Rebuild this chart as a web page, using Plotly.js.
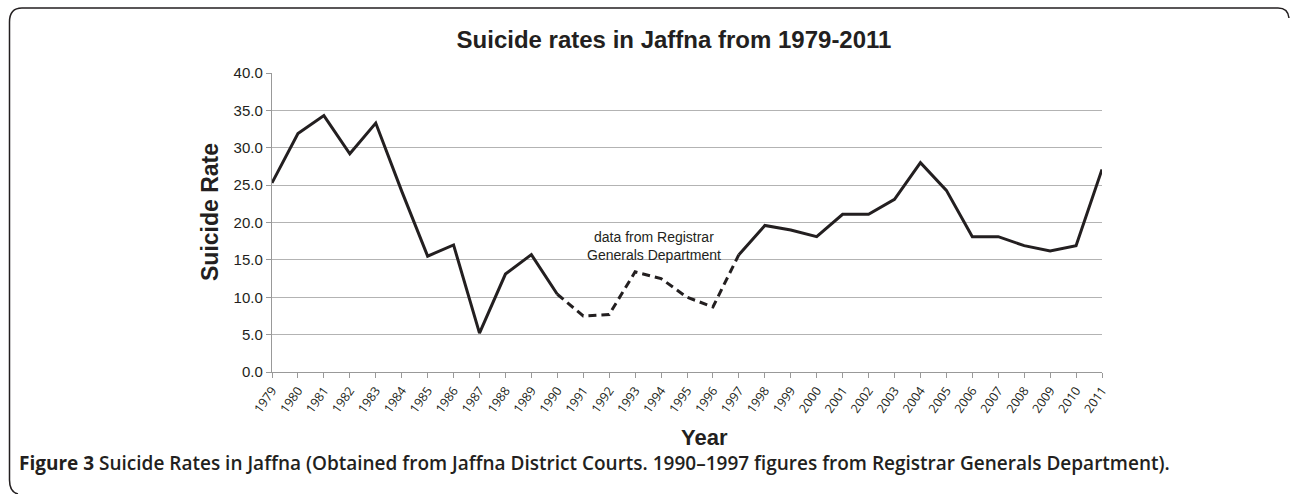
<!DOCTYPE html>
<html>
<head>
<meta charset="utf-8">
<script src="https://cdn.plot.ly/plotly-3.0.1.min.js"></script>
<style>html,body{margin:0;padding:0;background:#fff;}#chart{width:1292px;height:494px;}</style>
</head>
<body>
<div id="chart"></div>
<script>
// Data
const years = [1979,1980,1981,1982,1983,1984,1985,1986,1987,1988,1989,1990,1991,1992,1993,1994,1995,1996,1997,1998,1999,2000,2001,2002,2003,2004,2005,2006,2007,2008,2009,2010,2011];
const rates = [25.3,31.9,34.3,29.2,33.3,24.2,15.5,17.0,5.2,13.1,15.7,10.4,7.5,7.7,13.4,12.5,10.0,8.7,15.7,19.6,19.0,18.1,21.1,21.1,23.1,28.0,24.3,18.1,18.1,16.9,16.2,16.9,27.1];
const registrarStart = 1990;   // 1990–1997 figures from Registrar Generals Department
const registrarEnd = 1997;
const yTicks = [0,5,10,15,20,25,30,35,40];
const yTickText = ["0.0","5.0","10.0","15.0","20.0","25.0","30.0","35.0","40.0"];
const xTickText = years.map(String);

const W = 1292, H = 494;
const M = {l: 272, r: 190, t: 73, b: 122};
const plotW = W - M.l - M.r, plotH = H - M.t - M.b;
function px(x){ return (x - M.l) / plotW; }
function py(y){ return (H - M.b - y) / plotH; }

function seg(from, to){
  const xs = [], ys = [];
  years.forEach((yr,i)=>{ if (yr>=from && yr<=to){ xs.push(yr); ys.push(rates[i]); } });
  return {xs, ys};
}
const s1 = seg(years[0], registrarStart);
const s2 = seg(registrarStart, registrarEnd);
const s3 = seg(registrarEnd, years[years.length-1]);
const lineColor = '#231f20';

const traces = [
  {x: s1.xs, y: s1.ys, mode: 'lines', line: {color: lineColor, width: 3}, hoverinfo: 'x+y'},
  {x: s2.xs, y: s2.ys, mode: 'lines', line: {color: lineColor, width: 3, dash: '8px,5px'}, hoverinfo: 'x+y'},
  {x: s3.xs, y: s3.ys, mode: 'lines', line: {color: lineColor, width: 3}, hoverinfo: 'x+y'}
];

// frame path (decorative rounded border, in paper coords)
const framePath = [
  'M', px(1289), py(18),
  'Q', px(1288), py(8), px(1278), py(8),
  'L', px(22), py(8),
  'Q', px(9.5), py(8), px(9.5), py(22),
  'L', px(9.5), py(480),
  'Q', px(9.5), py(492), px(18), py(494)
].join(' ');

const FONT = 'Liberation Sans, Arial, sans-serif';

const layout = {
  width: W, height: H,
  margin: M,
  paper_bgcolor: '#fff', plot_bgcolor: '#fff',
  showlegend: false,
  font: {family: FONT, color: '#231f20'},
  title: {
    text: '<b>Suicide rates in Jaffna from 1979-2011</b>',
    font: {family: FONT, size: 24, color: '#231f20'},
    x: 674 / W, xref: 'container', xanchor: 'center',
    y: 1 - 40 / H, yref: 'container', yanchor: 'middle'
  },
  xaxis: {
    range: [years[0], years[years.length-1]],
    tickmode: 'array', tickvals: years, ticktext: xTickText,
    tickangle: -55,
    tickfont: {family: 'Open Sans, sans-serif', size: 12.5, color: '#231f20'},
    ticks: 'outside', ticklen: 5, tickcolor: '#999', tickwidth: 1,
    showline: true, linecolor: '#999', linewidth: 1.2,
    showgrid: false, zeroline: false
  },
  yaxis: {
    range: [0, 40],
    tickmode: 'array', tickvals: yTicks, ticktext: yTickText,
    tickfont: {family: FONT, size: 15, color: '#231f20'},
    ticks: 'outside', ticklen: 5, tickcolor: '#999', tickwidth: 1,
    showline: true, linecolor: '#999', linewidth: 1.2,
    showgrid: true, gridcolor: '#b3b3b3', gridwidth: 1.2,
    zeroline: false
  },
  annotations: [
    {
      text: 'data from Registrar<br>Generals Department',
      xref: 'paper', yref: 'paper', x: px(654), y: py(246),
      xanchor: 'center', yanchor: 'middle',
      showarrow: false,
      font: {family: FONT, size: 14, color: '#231f20'},
      align: 'center'
    },
    {
      text: '<b>Suicide Rate</b>',
      xref: 'paper', yref: 'paper', x: px(210), y: py(212),
      xanchor: 'center', yanchor: 'middle', textangle: -90, showarrow: false,
      font: {family: FONT, size: 23, color: '#231f20'}
    },
    {
      text: '<b>Year</b>',
      xref: 'paper', yref: 'paper', x: px(704), y: py(437),
      xanchor: 'center', yanchor: 'middle', showarrow: false,
      font: {family: FONT, size: 22, color: '#231f20'}
    },
    {
      text: '<b>Figure 3</b> Suicide Rates in Jaffna (Obtained from Jaffna District Courts. 1990–1997 figures from Registrar Generals Department).',
      xref: 'paper', yref: 'paper', x: px(17), y: py(463),
      xanchor: 'left', yanchor: 'middle', showarrow: false,
      font: {family: 'Open Sans, sans-serif', size: 19, color: '#231f20', weight: 600}
    }
  ],
  shapes: [
    {type: 'path', path: framePath, xref: 'paper', yref: 'paper', line: {color: '#231f20', width: 1.5}, layer: 'above'}
  ]
};

Plotly.newPlot('chart', traces, layout, {displayModeBar: false, staticPlot: true});
</script>
</body>
</html>
